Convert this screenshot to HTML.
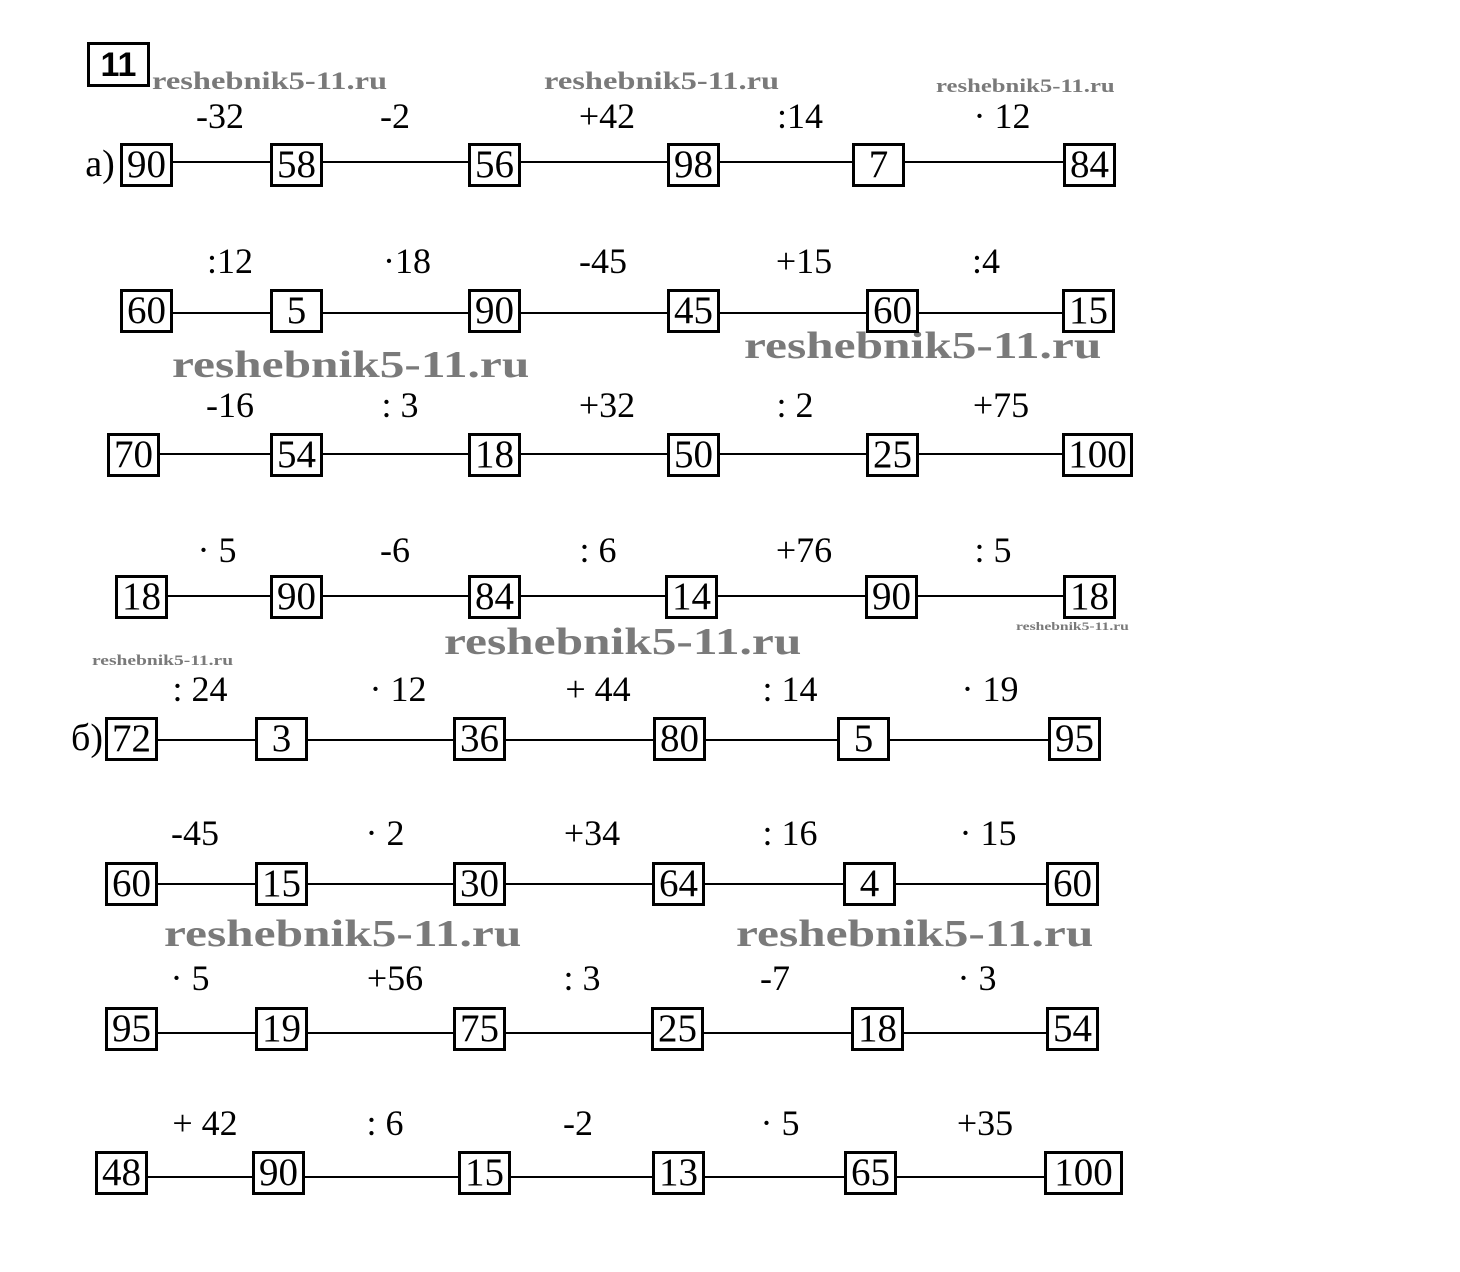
<!DOCTYPE html>
<html><head><meta charset="utf-8">
<style>
body{margin:0;background:#fff;}
#c{position:relative;width:1460px;height:1272px;overflow:hidden;background:#fff;font-family:"Liberation Serif",serif;}
.b{position:absolute;box-sizing:border-box;border:3px solid #000;background:#fff;font-size:39px;line-height:38px;text-align:center;color:#000;}
.l{position:absolute;height:2px;background:#000;}
.t{position:absolute;font-size:36px;line-height:32px;transform:translateX(-50%);white-space:nowrap;color:#000;}
.w{position:absolute;font-weight:bold;color:#7a7a7a;white-space:nowrap;font-family:"Liberation Serif",serif;transform:scaleX(1.3);transform-origin:left top;}
</style></head><body><div id="c">
<div class="b" style="left:87px;top:42px;width:63px;height:45px;font-size:34px;font-weight:bold;line-height:40px;font-family:'Liberation Sans',sans-serif">11</div>
<div class="w" style="left:152px;top:68px;font-size:25px">reshebnik5-11.ru</div>
<div class="w" style="left:544px;top:68px;font-size:25px">reshebnik5-11.ru</div>
<div class="w" style="left:936px;top:76px;font-size:19px">reshebnik5-11.ru</div>
<div class="w" style="left:172px;top:343px;font-size:38px">reshebnik5-11.ru</div>
<div class="w" style="left:744px;top:324px;font-size:38px">reshebnik5-11.ru</div>
<div class="w" style="left:444px;top:620px;font-size:38px">reshebnik5-11.ru</div>
<div class="w" style="left:1016px;top:619px;font-size:12px">reshebnik5-11.ru</div>
<div class="w" style="left:92px;top:653px;font-size:15px">reshebnik5-11.ru</div>
<div class="w" style="left:164px;top:912px;font-size:38px">reshebnik5-11.ru</div>
<div class="w" style="left:736px;top:912px;font-size:38px">reshebnik5-11.ru</div>

<div class="t" style="left:100px;top:148px;font-size:38px">а)</div>
<div class="t" style="left:87px;top:722px;font-size:38px">б)</div>

<!-- Row1 -->
<div class="l" style="left:160px;top:161px;width:920px"></div>
<div class="b" style="left:120px;top:143px;width:53px;height:44px">90</div>
<div class="b" style="left:270px;top:143px;width:53px;height:44px">58</div>
<div class="b" style="left:468px;top:143px;width:53px;height:44px">56</div>
<div class="b" style="left:667px;top:143px;width:53px;height:44px">98</div>
<div class="b" style="left:852px;top:143px;width:53px;height:44px">7</div>
<div class="b" style="left:1063px;top:143px;width:53px;height:44px">84</div>
<div class="t" style="left:220px;top:100px">-32</div>
<div class="t" style="left:395px;top:100px">-2</div>
<div class="t" style="left:607px;top:100px">+42</div>
<div class="t" style="left:800px;top:100px">:14</div>
<div class="t" style="left:1002px;top:100px">· 12</div>

<!-- Row2 -->
<div class="l" style="left:160px;top:312px;width:920px"></div>
<div class="b" style="left:120px;top:289px;width:53px;height:44px">60</div>
<div class="b" style="left:270px;top:289px;width:53px;height:44px">5</div>
<div class="b" style="left:468px;top:289px;width:53px;height:44px">90</div>
<div class="b" style="left:667px;top:289px;width:53px;height:44px">45</div>
<div class="b" style="left:866px;top:289px;width:53px;height:44px">60</div>
<div class="b" style="left:1062px;top:289px;width:53px;height:44px">15</div>
<div class="t" style="left:230px;top:245px">:12</div>
<div class="t" style="left:407px;top:245px">·18</div>
<div class="t" style="left:603px;top:245px">-45</div>
<div class="t" style="left:804px;top:245px">+15</div>
<div class="t" style="left:986px;top:245px">:4</div>

<!-- Row3 -->
<div class="l" style="left:150px;top:453px;width:930px"></div>
<div class="b" style="left:107px;top:433px;width:53px;height:44px">70</div>
<div class="b" style="left:270px;top:433px;width:53px;height:44px">54</div>
<div class="b" style="left:468px;top:433px;width:53px;height:44px">18</div>
<div class="b" style="left:667px;top:433px;width:53px;height:44px">50</div>
<div class="b" style="left:866px;top:433px;width:53px;height:44px">25</div>
<div class="b" style="left:1062px;top:433px;width:71px;height:44px">100</div>
<div class="t" style="left:230px;top:389px">-16</div>
<div class="t" style="left:400px;top:389px">: 3</div>
<div class="t" style="left:607px;top:389px">+32</div>
<div class="t" style="left:795px;top:389px">: 2</div>
<div class="t" style="left:1001px;top:389px">+75</div>

<!-- Row4 -->
<div class="l" style="left:160px;top:595px;width:920px"></div>
<div class="b" style="left:115px;top:575px;width:53px;height:44px">18</div>
<div class="b" style="left:270px;top:575px;width:53px;height:44px">90</div>
<div class="b" style="left:468px;top:575px;width:53px;height:44px">84</div>
<div class="b" style="left:665px;top:575px;width:53px;height:44px">14</div>
<div class="b" style="left:865px;top:575px;width:53px;height:44px">90</div>
<div class="b" style="left:1063px;top:575px;width:53px;height:44px">18</div>
<div class="t" style="left:217px;top:534px">· 5</div>
<div class="t" style="left:395px;top:534px">-6</div>
<div class="t" style="left:598px;top:534px">: 6</div>
<div class="t" style="left:804px;top:534px">+76</div>
<div class="t" style="left:993px;top:534px">: 5</div>

<!-- Row5 -->
<div class="l" style="left:150px;top:739px;width:910px"></div>
<div class="b" style="left:105px;top:717px;width:53px;height:44px">72</div>
<div class="b" style="left:255px;top:717px;width:53px;height:44px">3</div>
<div class="b" style="left:453px;top:717px;width:53px;height:44px">36</div>
<div class="b" style="left:653px;top:717px;width:53px;height:44px">80</div>
<div class="b" style="left:837px;top:717px;width:53px;height:44px">5</div>
<div class="b" style="left:1048px;top:717px;width:53px;height:44px">95</div>
<div class="t" style="left:200px;top:673px">: 24</div>
<div class="t" style="left:398px;top:673px">· 12</div>
<div class="t" style="left:598px;top:673px">+ 44</div>
<div class="t" style="left:790px;top:673px">: 14</div>
<div class="t" style="left:990px;top:673px">· 19</div>

<!-- Row6 -->
<div class="l" style="left:150px;top:883px;width:910px"></div>
<div class="b" style="left:105px;top:862px;width:53px;height:44px">60</div>
<div class="b" style="left:255px;top:862px;width:53px;height:44px">15</div>
<div class="b" style="left:453px;top:862px;width:53px;height:44px">30</div>
<div class="b" style="left:652px;top:862px;width:53px;height:44px">64</div>
<div class="b" style="left:843px;top:862px;width:53px;height:44px">4</div>
<div class="b" style="left:1046px;top:862px;width:53px;height:44px">60</div>
<div class="t" style="left:195px;top:817px">-45</div>
<div class="t" style="left:385px;top:817px">· 2</div>
<div class="t" style="left:592px;top:817px">+34</div>
<div class="t" style="left:790px;top:817px">: 16</div>
<div class="t" style="left:988px;top:817px">· 15</div>

<!-- Row7 -->
<div class="l" style="left:150px;top:1032px;width:910px"></div>
<div class="b" style="left:105px;top:1007px;width:53px;height:44px">95</div>
<div class="b" style="left:255px;top:1007px;width:53px;height:44px">19</div>
<div class="b" style="left:453px;top:1007px;width:53px;height:44px">75</div>
<div class="b" style="left:651px;top:1007px;width:53px;height:44px">25</div>
<div class="b" style="left:851px;top:1007px;width:53px;height:44px">18</div>
<div class="b" style="left:1046px;top:1007px;width:53px;height:44px">54</div>
<div class="t" style="left:190px;top:962px">· 5</div>
<div class="t" style="left:395px;top:962px">+56</div>
<div class="t" style="left:582px;top:962px">: 3</div>
<div class="t" style="left:775px;top:962px">-7</div>
<div class="t" style="left:977px;top:962px">· 3</div>

<!-- Row8 -->
<div class="l" style="left:140px;top:1176px;width:920px"></div>
<div class="b" style="left:95px;top:1151px;width:53px;height:44px">48</div>
<div class="b" style="left:252px;top:1151px;width:53px;height:44px">90</div>
<div class="b" style="left:458px;top:1151px;width:53px;height:44px">15</div>
<div class="b" style="left:652px;top:1151px;width:53px;height:44px">13</div>
<div class="b" style="left:844px;top:1151px;width:53px;height:44px">65</div>
<div class="b" style="left:1044px;top:1151px;width:79px;height:44px">100</div>
<div class="t" style="left:205px;top:1107px">+ 42</div>
<div class="t" style="left:385px;top:1107px">: 6</div>
<div class="t" style="left:578px;top:1107px">-2</div>
<div class="t" style="left:780px;top:1107px">· 5</div>
<div class="t" style="left:985px;top:1107px">+35</div>
</div></body></html>
